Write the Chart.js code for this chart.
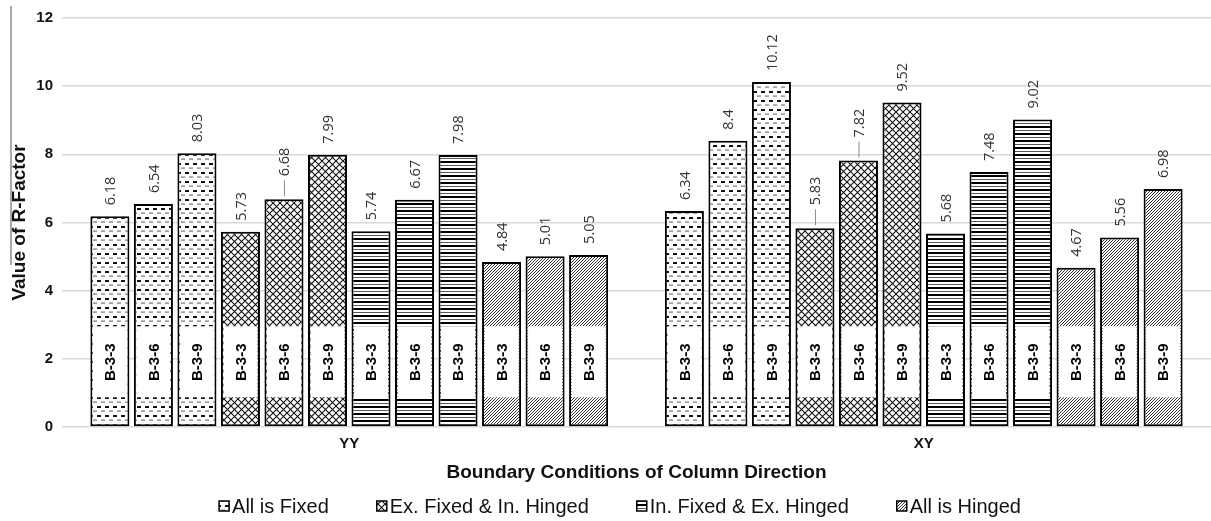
<!DOCTYPE html>
<html>
<head>
<meta charset="utf-8">
<script src="https://cdn.jsdelivr.net/npm/chart.js@4.4.1/dist/chart.umd.min.js"></script>
<style>
  html, body { margin: 0; padding: 0; background: #fff; }
  #wrap { width: 1211px; height: 521px; }
</style>
</head>
<body>
<div id="wrap"><canvas id="chart" width="1211" height="521"></canvas></div>
<script>
// Column-direction boundary conditions (x categories) and models
const categories = ['YY', 'XY'];
const models = ['B-3-3', 'B-3-6', 'B-3-9'];
const seriesNames = ['All is Fixed', 'Ex. Fixed & In. Hinged', 'In. Fixed & Ex. Hinged', 'All is Hinged'];

// R-factor values, per series, per direction, ordered B-3-3, B-3-6, B-3-9
const allFixedYY = [6.18, 6.54, 8.03];
const allFixedXY = [6.34, 8.4, 10.12];
const exFixedYY = [5.73, 6.68, 7.99];
const exFixedXY = [5.83, 7.82, 9.52];
const inFixedYY = [5.74, 6.67, 7.98];
const inFixedXY = [5.68, 7.48, 9.02];
const allHingedYY = [4.84, 5.01, 5.05];
const allHingedXY = [4.67, 5.56, 6.98];

const yTicks = [0, 2, 4, 6, 8, 10, 12];

// value labels that sit a little higher with a short leader line
const leaderLabels = ['YY|1|B-3-6', 'XY|1|B-3-3', 'XY|1|B-3-6'];

// ---- hatch fills ----
function makeTile(w, h, draw) {
  const c = document.createElement('canvas');
  c.width = w; c.height = h;
  const g = c.getContext('2d');
  g.fillStyle = '#fff';
  g.fillRect(0, 0, w, h);
  draw(g);
  return document.getElementById('chart').getContext('2d').createPattern(c, 'repeat');
}
const patterns = [
  // short horizontal dashes
  makeTile(8, 9, g => {
    g.fillStyle = '#111';
    g.fillRect(1, 1, 4, 2);
    g.fillStyle = '#777';
    g.fillRect(5, 5.5, 3, 1.2);
    g.fillRect(0, 5.5, 1, 1.2);
  }),
  // diamond cross-hatch
  makeTile(7, 7, g => {
    g.strokeStyle = '#111';
    g.lineWidth = 1.1;
    g.beginPath();
    g.moveTo(-1, -1); g.lineTo(8, 8);
    g.moveTo(8, -1); g.lineTo(-1, 8);
    g.stroke();
  }),
  // horizontal rules
  makeTile(4, 7, g => {
    g.fillStyle = '#000';
    g.fillRect(0, 0, 4, 2);
    g.fillStyle = '#555';
    g.fillRect(0, 4, 4, 1);
  }),
  // fine diagonal hatch
  makeTile(3, 3, g => {
    g.strokeStyle = '#333';
    g.lineWidth = 1;
    g.beginPath();
    g.moveTo(-1, 4); g.lineTo(4, -1);
    g.moveTo(-1, 1); g.lineTo(1, -1);
    g.moveTo(2, 4); g.lineTo(4, 2);
    g.stroke();
  })
];

const seriesValues = [
  [allFixedYY, allFixedXY],
  [exFixedYY, exFixedXY],
  [inFixedYY, inFixedXY],
  [allHingedYY, allHingedXY]
];

const datasets = [];
seriesNames.forEach((name, si) => {
  models.forEach((model, mi) => {
    datasets.push({
      label: name + ' ' + model,
      series: si,
      model: model,
      data: [seriesValues[si][0][mi], seriesValues[si][1][mi]],
      backgroundColor: patterns[si],
      borderColor: '#000',
      borderWidth: 2,
      borderSkipped: false,
      categoryPercentage: 0.909,
      barPercentage: 0.897
    });
  });
});

// model names on white plates and value labels above each bar
const barLabels = {
  id: 'barLabels',
  afterDatasetsDraw(chart) {
    const ctx = chart.ctx;
    chart.data.datasets.forEach((ds, di) => {
      const meta = chart.getDatasetMeta(di);
      meta.data.forEach((bar, ci) => {
        const p = bar.getProps(['x', 'y', 'base', 'width'], true);
        ctx.save();
        ctx.fillStyle = '#fff';
        ctx.fillRect(p.x - p.width / 2 + 2.5, p.base - 100, p.width - 5, 71);
        ctx.translate(p.x, p.base - 64);
        ctx.rotate(-Math.PI / 2);
        ctx.font = 'bold 15px "Liberation Sans", Arial, sans-serif';
        ctx.fillStyle = '#000';
        ctx.textAlign = 'center';
        ctx.textBaseline = 'middle';
        ctx.fillText(ds.model, 0, 1);
        ctx.restore();

        const key = categories[ci] + '|' + ds.series + '|' + ds.model;
        const lead = leaderLabels.includes(key);
        const gap = lead ? 23 : 11;
        ctx.save();
        if (lead) {
          ctx.strokeStyle = '#8a8a8a';
          ctx.lineWidth = 1;
          ctx.beginPath();
          ctx.moveTo(p.x + 0.5, p.y - 3);
          ctx.lineTo(p.x + 0.5, p.y - gap + 4);
          ctx.stroke();
        }
        ctx.translate(p.x + 1, p.y - gap);
        ctx.rotate(-Math.PI / 2);
        ctx.font = '14.5px "Open Sans", "Liberation Sans", sans-serif';
        ctx.fillStyle = '#333';
        ctx.textAlign = 'left';
        ctx.textBaseline = 'middle';
        ctx.fillText(String(ds.data[ci]), 0, 0);
        ctx.restore();
      });
    });
  }
};

// legend row and the thin rule at the left edge
const legendRow = {
  id: 'legendRow',
  afterDraw(chart) {
    const ctx = chart.ctx;
    ctx.save();
    ctx.strokeStyle = '#8c8c8c';
    ctx.lineWidth = 1.5;
    ctx.beginPath();
    ctx.moveTo(11, 6);
    ctx.lineTo(11, 265);
    ctx.stroke();

    ctx.font = '20px "Liberation Sans", Arial, sans-serif';
    const box = 10, gap = 3, spacing = 48;
    const widths = seriesNames.map(n => box + gap + ctx.measureText(n).width);
    const total = widths.reduce((a, b) => a + b, 0) + spacing * (seriesNames.length - 1);
    let x = 620 - total / 2;
    const cy = 506;
    seriesNames.forEach((n, i) => {
      ctx.fillStyle = patterns[i];
      ctx.fillRect(x, cy - 5, box, box);
      ctx.strokeStyle = '#000';
      ctx.lineWidth = 1.5;
      ctx.strokeRect(x, cy - 5, box, box);
      ctx.fillStyle = '#111';
      ctx.textAlign = 'left';
      ctx.textBaseline = 'middle';
      ctx.fillText(n, x + box + gap, cy + 1);
      x += widths[i] + spacing;
    });
    ctx.restore();
  }
};

new Chart(document.getElementById('chart'), {
  type: 'bar',
  data: { labels: categories, datasets: datasets },
  options: {
    responsive: false,
    animation: false,
    events: [],
    layout: { padding: { top: 10, right: 0, bottom: 34, left: 0 } },
    plugins: {
      legend: { display: false },
      tooltip: { enabled: false }
    },
    scales: {
      x: {
        grid: { display: false, drawTicks: false },
        border: { display: false },
        ticks: {
          color: '#111',
          padding: 8,
          font: { family: '"Liberation Sans", Arial, sans-serif', size: 15, weight: 'bold' }
        },
        title: {
          display: true,
          text: 'Boundary Conditions of Column Direction',
          color: '#111',
          padding: { top: 0, bottom: 3 },
          font: { family: '"Liberation Sans", Arial, sans-serif', size: 19, weight: 'bold' }
        },
        afterFit(scale) { scale.height = 60; }
      },
      y: {
        min: 0,
        max: 12,
        afterBuildTicks(scale) { scale.ticks = yTicks.map(v => ({ value: v })); },
        grid: { color: '#d9d9d9', lineWidth: 1.5, drawTicks: false },
        border: { display: false },
        ticks: {
          color: '#111',
          padding: 9,
          font: { family: '"Liberation Sans", Arial, sans-serif', size: 15, weight: 'bold' }
        },
        title: {
          display: true,
          text: 'Value of R-Factor',
          color: '#111',
          padding: { top: 8, bottom: 0 },
          font: { family: '"Liberation Sans", Arial, sans-serif', size: 19, weight: 'bold' }
        },
        afterFit(scale) { scale.width = 62; }
      }
    }
  },
  plugins: [barLabels, legendRow]
});
</script>
</body>
</html>
